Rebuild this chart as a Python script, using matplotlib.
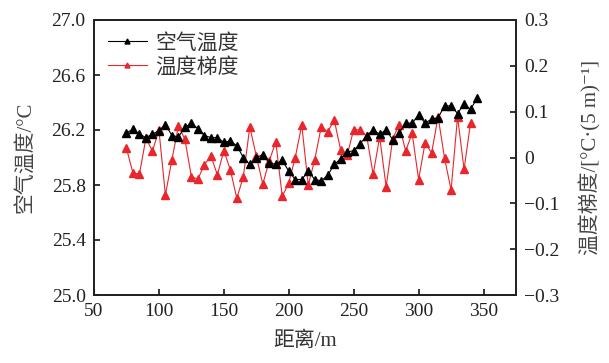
import matplotlib
matplotlib.use("Agg")
import matplotlib.pyplot as plt
from matplotlib.ticker import FixedLocator, FuncFormatter

plt.rcParams['font.family'] = ['Liberation Serif', 'Noto Sans CJK SC', 'DejaVu Sans']
plt.rcParams['axes.unicode_minus'] = True

# Data
dist_temp = [75, 80, 85, 90, 95, 100, 105, 110, 115, 120, 125, 130, 135, 140, 145,
             150, 155, 160, 165, 170, 175, 180, 185, 190, 195, 200, 205, 210, 215,
             220, 225, 230, 235, 240, 245, 250, 255, 260, 265, 270, 275, 280, 285,
             290, 295, 300, 305, 310, 315, 320, 325, 330, 335, 340, 345]
air_temp = [26.18, 26.205, 26.17, 26.145, 26.17, 26.195, 26.24, 26.16, 26.15, 26.22,
            26.25, 26.21, 26.16, 26.145, 26.145, 26.11, 26.12, 26.086, 26.00, 25.95,
            26.00, 26.02, 25.96, 25.95, 25.98, 25.90, 25.84, 25.84, 25.90, 25.84,
            25.83, 25.87, 25.95, 25.99, 26.04, 26.05, 26.10, 26.16, 26.20, 26.17,
            26.20, 26.13, 26.18, 26.25, 26.25, 26.31, 26.25, 26.28, 26.29, 26.375,
            26.375, 26.32, 26.39, 26.35, 26.43]

dist_grad = dist_temp[:-1]
temp_grad = [0.02, -0.034, -0.036, 0.042, 0.014, 0.06, -0.082, -0.005, 0.069, 0.04,
             -0.042, -0.047, -0.016, 0.004, -0.038, 0.015, -0.027, -0.089, -0.042, 0.067,
             0.003, -0.058, -0.007, 0.034, -0.085, -0.055, 0.0, 0.071, -0.06, -0.005,
             0.067, 0.056, 0.082, 0.016, 0.005, 0.061, 0.06, 0.047, -0.037, 0.045,
             -0.064, 0.04, 0.072, 0.014, 0.053, -0.048, 0.032, 0.010, 0.089, -0.002,
             -0.071, 0.089, -0.026, 0.076]

x_ticks = [50, 100, 150, 200, 250, 300, 350]
left_ticks = [25.0, 25.4, 25.8, 26.2, 26.6, 27.0]
right_ticks = [-0.3, -0.2, -0.1, 0, 0.1, 0.2, 0.3]

fig = plt.figure(figsize=(6.09, 3.63), dpi=100)
ax = fig.add_axes([94/609, 1-295/363, (516-94)/609, (295-20)/363])
ax2 = ax.twinx()

red = '#e8262b'
l1, = ax.plot(dist_temp, air_temp, color='black', lw=0.8, marker='^', ms=6,
              label='空气温度', zorder=3)
l2, = ax2.plot(dist_grad, temp_grad, color=red, lw=0.8, marker='^', ms=6,
               label='温度梯度', zorder=2)
ax.set_zorder(ax2.get_zorder() + 1)
ax.patch.set_visible(False)

ax.set_xlim(50, 375)
ax.set_ylim(25.0, 27.0)
ax2.set_ylim(-0.3, 0.3)
ax.xaxis.set_major_locator(FixedLocator(x_ticks))
ax.yaxis.set_major_locator(FixedLocator(left_ticks))
ax2.yaxis.set_major_locator(FixedLocator(right_ticks))
ax.yaxis.set_major_formatter(FuncFormatter(lambda v, p: f'{v:.1f}'))
ax2.yaxis.set_major_formatter(FuncFormatter(
    lambda v, p: '0' if abs(v) < 1e-9 else f'{v:.1f}'.replace('-', '\u2212')))

for a in (ax, ax2):
    for s in a.spines.values():
        s.set_linewidth(1.3)
        s.set_color('#222222')
ax.tick_params(axis='both', direction='in', length=4, width=1.1, labelsize=14,
               pad=6, labelcolor='#222222')
ax2.tick_params(axis='y', direction='in', length=4, width=1.1, labelsize=14,
                pad=6, labelcolor='#222222')

ax.set_xlabel('距离/m', fontsize=15, labelpad=8, color='#333333')
ax.set_ylabel('空气温度/°C', fontsize=15, color='#444444', labelpad=12)
ax2.set_ylabel('温度梯度/[°C·(5 m)⁻¹]', fontsize=15, color='#444444', labelpad=14)

leg = ax.legend(handles=[l1, l2], loc='upper left', frameon=False, fontsize=15,
                handlelength=1.9, handletextpad=0.4, labelspacing=0.2,
                borderaxespad=0.25, markerscale=0.6)
for t in leg.get_texts():
    t.set_color('#333333')

fig.savefig('out.png', dpi=100)
